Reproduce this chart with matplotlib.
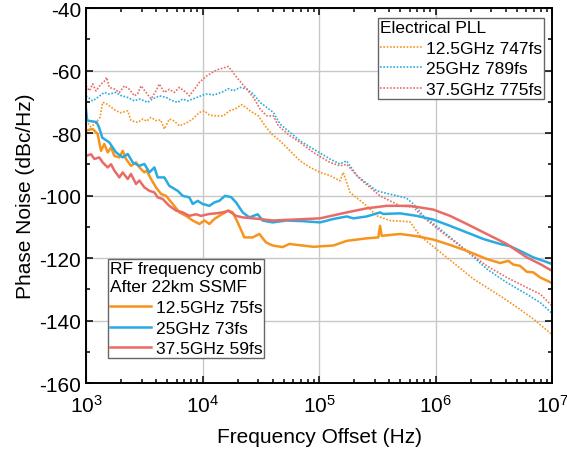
import numpy as np
import matplotlib
matplotlib.use("Agg")
import matplotlib.pyplot as plt
from matplotlib.ticker import LogLocator, MultipleLocator, NullFormatter

plt.rcParams['font.family'] = ['Liberation Sans', 'DejaVu Sans']
plt.rcParams['mathtext.default'] = 'regular'
plt.rcParams['axes.unicode_minus'] = False

# curvas: log10(f) y ruido de fase en dBc/Hz
# Electrical PLL (punteadas)
pll125_lgf = [3.00, 3.04, 3.08, 3.12, 3.143, 3.17, 3.20, 3.258, 3.30, 3.358,
              3.386, 3.443, 3.49, 3.52, 3.558, 3.60, 3.64, 3.672, 3.715, 3.76,
              3.801, 3.86, 3.916, 3.973, 4.016, 4.06, 4.12, 4.179, 4.23, 4.28,
              4.336, 4.379, 4.408, 4.479, 4.536, 4.594, 4.665, 4.751, 4.837, 4.923,
              5.009, 5.094, 5.18, 5.208, 5.266, 5.41, 5.495, 5.61, 5.78, 5.867,
              6.096, 6.325, 6.554, 6.697, 6.84, 7.0]
pll125_db = [-76, -78, -77, -75, -70.2, -70.5, -71.3, -72.9, -73.5, -72.9,
             -76, -76.6, -75.5, -76.2, -75, -76, -75.8, -78.7, -75.5, -76.2,
             -77.7, -76.8, -75.5, -73.4, -72.9, -74.3, -74.5, -74.5, -72.9, -72.3,
             -70.9, -72.0, -72.9, -74.5, -77.7, -80.3, -82.5, -85.7, -88.9, -91,
             -92.6, -93.6, -95.3, -92.6, -99, -103.3, -106.5, -108, -108.4, -112.9,
             -119.8, -126.7, -132.1, -135.7, -139.5, -144.5]

pll25_lgf = [3.00, 3.057, 3.10, 3.157, 3.20, 3.258, 3.30, 3.358, 3.415, 3.46,
             3.50, 3.529, 3.572, 3.629, 3.687, 3.73, 3.787, 3.83, 3.873, 3.916,
             3.987, 4.03, 4.102, 4.179, 4.222, 4.265, 4.322, 4.379, 4.436, 4.494,
             4.551, 4.608, 4.665, 4.751, 4.837, 4.951, 5.094, 5.18, 5.237, 5.323,
             5.495, 5.58, 5.75, 5.81, 5.896, 6.039, 6.267, 6.44, 6.61, 6.78,
             6.897, 7.0]
pll25_db = [-68.1, -69.7, -68.6, -67, -67.5, -67, -68, -68.6, -69.7, -69.1,
            -69.7, -70.2, -69.1, -68.1, -68.6, -69.5, -70.2, -69.1, -69.7, -69.1,
            -68.1, -67.5, -67.8, -66.7, -65.8, -66.5, -65.4, -65.9, -67.5, -70.2,
            -71.8, -73.4, -77.1, -79.8, -82.5, -85.1, -88.3, -89.9, -88.9, -93.6,
            -98.5, -99.3, -100.8, -102.7, -106.5, -110.7, -117.7, -123.5, -127.8, -131.5,
            -134.2, -137.7]

pll375_lgf = [3.00, 3.029, 3.057, 3.086, 3.129, 3.157, 3.177, 3.20, 3.243, 3.286,
              3.329, 3.372, 3.415, 3.443, 3.472, 3.515, 3.558, 3.601, 3.629, 3.672,
              3.715, 3.758, 3.801, 3.858, 3.887, 3.93, 3.973, 4.036, 4.122, 4.222,
              4.293, 4.379, 4.436, 4.494, 4.551, 4.608, 4.651, 4.751, 4.837, 4.951,
              5.094, 5.18, 5.237, 5.352, 5.523, 5.695, 5.81, 5.896, 6.039, 6.267,
              6.44, 6.61, 6.78, 6.897, 7.0]
pll375_db = [-64.9, -66.5, -64.3, -66.5, -64.3, -63.5, -62.2, -65.4, -65.9, -67,
             -64.9, -66, -68.1, -67.5, -64.9, -67, -69.1, -66.5, -64.3, -67,
             -66, -67, -65.4, -67, -68.1, -66, -63.8, -61.7, -59.8, -58.7,
             -62.2, -65.9, -68.6, -72.3, -74.5, -74.5, -77.7, -80.9, -83, -86.2,
             -89.4, -90.5, -90, -94.7, -100.1, -103.3, -103.8, -107, -111.3, -117.7,
             -122.5, -126.2, -129.4, -131.5, -135.3]

# RF frequency comb (continuas)
comb125_lgf = [3.00, 3.057, 3.10, 3.114, 3.129, 3.157, 3.186, 3.215, 3.243, 3.286,
               3.315, 3.343, 3.386, 3.429, 3.458, 3.501, 3.52, 3.558, 3.601, 3.644,
               3.687, 3.744, 3.801, 3.858, 3.916, 3.973, 4.016, 4.059, 4.102, 4.144,
               4.222, 4.259, 4.302, 4.359, 4.431, 4.488, 4.545, 4.602, 4.688, 4.745,
               4.86, 4.951, 5.123, 5.238, 5.409, 5.509, 5.524, 5.538, 5.695, 5.838,
               5.981, 6.124, 6.268, 6.439, 6.554, 6.625, 6.668, 6.725, 6.783, 6.84,
               6.897, 7.0]
comb125_db = [-79.2, -78.7, -80.3, -83, -85.7, -83.5, -86.2, -84.6, -87.3, -87.8,
              -85.7, -88.3, -90.5, -89.4, -91, -92.6, -92.0, -94.7, -97.4, -99.5,
              -100.1, -102.7, -105.4, -106.5, -108, -109.1, -108, -109.1, -107.5, -106.5,
              -104.8, -105.4, -108.6, -113.4, -113.4, -112.3, -115, -116, -116.5, -115.5,
              -116, -116.4, -116, -114.5, -113.7, -113.4, -109.7, -112.9, -112.3, -113,
              -114.1, -115.8, -117.7, -120.3, -121.6, -120.9, -122.1, -122.5, -124.4, -124.6,
              -126.2, -128]

comb25_lgf = [3.00, 3.01, 3.09, 3.11, 3.14, 3.20, 3.258, 3.315, 3.358, 3.401,
              3.458, 3.501, 3.544, 3.587, 3.615, 3.672, 3.715, 3.787, 3.830, 3.887,
              3.916, 3.959, 4.001, 4.059, 4.102, 4.144, 4.193, 4.245, 4.288, 4.345,
              4.402, 4.474, 4.516, 4.602, 4.717, 4.86, 5.009, 5.123, 5.238, 5.295,
              5.409, 5.524, 5.552, 5.695, 5.838, 5.981, 6.124, 6.268, 6.41, 6.554,
              6.639, 6.725, 6.84, 7.0]
comb25_db = [-72.5, -76, -76.5, -78, -81.5, -83, -86.2, -87.8, -86.7, -89.4,
             -90.5, -89.9, -92.6, -91, -94.2, -94.2, -96.9, -98.5, -100.1, -100.6,
             -102.7, -101.7, -102.7, -103.3, -102.2, -101.7, -100.1, -100.5, -102.2, -105.4,
             -107, -106, -108, -108.6, -108, -108.2, -108.6, -107.5, -106.7, -107.3,
             -106.7, -105.4, -105.9, -105.7, -106.5, -107.7, -109.7, -111.8, -113.9, -115.5,
             -116.2, -117.7, -119.8, -121.9]

comb375_lgf = [3.00, 3.043, 3.072, 3.114, 3.143, 3.186, 3.215, 3.243, 3.286, 3.315,
               3.358, 3.386, 3.429, 3.458, 3.501, 3.544, 3.587, 3.615, 3.658, 3.715,
               3.773, 3.830, 3.887, 3.944, 3.987, 4.059, 4.116, 4.173, 4.222, 4.288,
               4.345, 4.488, 4.602, 4.774, 5.009, 5.238, 5.409, 5.581, 5.781, 5.981,
               6.124, 6.268, 6.439, 6.611, 6.783, 6.897, 7.0]
comb375_db = [-87.3, -86.8, -88.3, -87.8, -89.4, -91, -90, -92, -94.2, -92.6,
              -94.7, -93.1, -96.3, -95.2, -97.4, -98.5, -99, -100.6, -101.1, -103.3,
              -104.8, -105.4, -106.5, -106, -106.5, -105.9, -105.7, -105.4, -104.9, -106.5,
              -107, -107.5, -108, -107.7, -107.3, -105.4, -104.1, -103.3, -103.3, -104.5,
              -106.5, -109.1, -112.3, -115.5, -119.8, -121.9, -124.1]

pll_labels = ['12.5GHz 747fs', '25GHz 789fs', '37.5GHz 775fs']
comb_labels = ['12.5GHz 75fs', '25GHz 73fs', '37.5GHz 59fs']
colores = ['#F7941D', '#29ABE2', '#EA6B66']

fig = plt.figure(figsize=(5.67, 4.52), dpi=100)
ax = fig.add_axes([0.1517, 0.1504, 0.8219, 0.8296])

pll = [(pll125_lgf, pll125_db), (pll25_lgf, pll25_db), (pll375_lgf, pll375_db)]
comb = [(comb125_lgf, comb125_db), (comb25_lgf, comb25_db), (comb375_lgf, comb375_db)]

h_pll, h_comb = [], []
for (lgf, db), c, lab in zip(pll, colores, pll_labels):
    l, = ax.plot(10 ** np.array(lgf), db, ls=(0, (1, 1)), lw=1.2, color=c, label=lab)
    h_pll.append(l)
for (lgf, db), c, lab in zip(comb, colores, comb_labels):
    l, = ax.plot(10 ** np.array(lgf), db, '-', lw=1.8, color=c, label=lab)
    h_comb.append(l)

ax.set_xscale('log')
ax.set_xlim(1e3, 1e7)
ax.set_ylim(-160, -40)
ax.yaxis.set_major_locator(MultipleLocator(20))
ax.yaxis.set_minor_locator(MultipleLocator(10))
ax.xaxis.set_major_locator(LogLocator(base=10, numticks=10))
ax.xaxis.set_minor_locator(LogLocator(base=10, subs=np.arange(2, 10), numticks=50))
ax.xaxis.set_minor_formatter(NullFormatter())

ax.grid(True, which='major', color='#c8c8c8', lw=1)
ax.set_axisbelow(True)
ax.tick_params(which='both', direction='in', top=True, right=True, labelsize=15, width=1.1)
ax.tick_params(which='major', length=5)
ax.tick_params(which='minor', length=3)
ax.tick_params(axis='x', pad=8)
for s in ax.spines.values():
    s.set_linewidth(1.4)

ax.set_xlabel('Frequency Offset (Hz)', fontsize=15, labelpad=8)
ax.set_ylabel('Phase Noise (dBc/Hz)', fontsize=15, labelpad=3)

opts = dict(loc='upper left', alignment='left', fontsize=12.5, title_fontsize=12.5,
            fancybox=False, edgecolor='#666666', framealpha=1, borderpad=0.1,
            borderaxespad=0, handlelength=2.4, handletextpad=0.25, labelspacing=0.32)
leg1 = ax.legend(handles=h_pll, title='Electrical PLL', bbox_to_anchor=(0.627, 0.973), **opts)
leg1.get_frame().set_linewidth(1)
ax.add_artist(leg1)
leg2 = ax.legend(handles=h_comb, title='RF frequency comb\nAfter 22km SSMF',
                 bbox_to_anchor=(0.0472, 0.3307), **opts)
leg2.get_frame().set_linewidth(1)
leg2.get_title().set_linespacing(1.3)

fig.savefig('out.png', dpi=100)
